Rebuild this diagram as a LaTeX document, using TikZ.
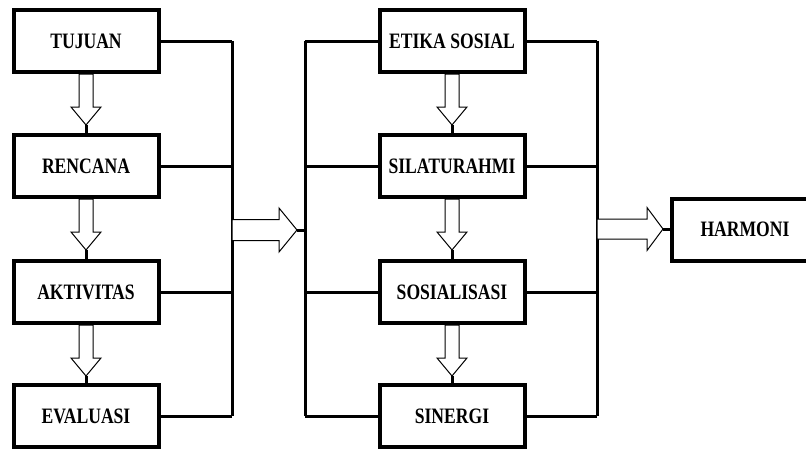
\documentclass[tikz,border=0pt]{standalone}
\usepackage{fontspec}
\setmainfont{Liberation Serif}
\usepackage{graphicx}
\usetikzlibrary{calc}

\newcommand{\cond}[1]{\scalebox{0.8}[1]{#1}}

\tikzset{every picture/.style={line width=0.75pt}}
\tikzset{
  box/.style={draw, line width=3pt, fill=white, minimum width=108.75pt, minimum height=46.5pt, inner sep=0pt, font=\fontsize{16.5}{18}\selectfont\bfseries},
  link/.style={line width=2.25pt},
  hollow/.style={line width=0.75pt, fill=white, line join=miter}
}

\begin{document}
\begin{tikzpicture}[x=0.75pt,y=0.75pt,yscale=-1,xscale=1]
\useasboundingbox (0,0) rectangle (806,450);

%Boxes left
\node[box] (tujuan) at (86,41) {\cond{TUJUAN}};
\node[box] (rencana) at (86,166) {\cond{RENCANA}};
\node[box] (aktivitas) at (86,292) {\cond{AKTIVITAS}};
\node[box] (evaluasi) at (86,416) {\cond{EVALUASI}};
%Boxes middle
\node[box] (etika) at (452,41) {\cond{ETIKA SOSIAL}};
\node[box] (silaturahmi) at (452,166) {\cond{SILATURAHMI}};
\node[box] (sosialisasi) at (452,292) {\cond{SOSIALISASI}};
\node[box] (sinergi) at (452,416) {\cond{SINERGI}};
%Box right (runs past the edge)
\node[box, minimum width=142.5pt] (harmoni) at (767,229.5) {\hspace*{-33pt}\cond{HARMONI}};

%Bus lines
\coordinate (busL) at (232,230);
\coordinate (busM) at (305,230);
\coordinate (busR) at (597,230);

%Straight Lines
\foreach \n in {tujuan,rencana,aktivitas,evaluasi}
  \draw[link] (\n.east) -- (\n.east -| busL);
\draw[link] (tujuan.east -| busL) -- (evaluasi.east -| busL);
\foreach \n in {etika,silaturahmi,sosialisasi,sinergi}
  \draw[link] (\n.west) -- (\n.west -| busM) (\n.east) -- (\n.east -| busR);
\draw[link] (etika.west -| busM) -- (sinergi.west -| busM);
\draw[link] (etika.east -| busR) -- (sinergi.east -| busR);

%Hollow arrows down
\foreach \a/\b in {tujuan/rencana,rencana/aktivitas,aktivitas/evaluasi,etika/silaturahmi,silaturahmi/sosialisasi,sosialisasi/sinergi}{
  \draw[hollow] ($(\a.south)+(-7,0)$) -- ++(0,33) -- ++(-8,0) -- ++(15,18) -- ++(15,-18) -- ++(-8,0) -- ++(0,-33) -- cycle;
  \draw[link] ($(\a.south)+(0,51)$) -- (\b.north);
}

%Block arrows
\draw[hollow] ($(busL)+(0,-10.5)$) -- ++(47,0) -- ++(0,-11.5) -- ++(18,22) -- ++(-18,22) -- ++(0,-11.5) -- ++(-47,0) -- cycle;
\draw[link] ($(busL)+(65,0)$) -- (busM);
\draw[hollow] ($(busR |- harmoni.west)+(0,-10.5)$) -- ++(50,0) -- ++(0,-11.5) -- ++(16,21.5) -- ++(-16,21.5) -- ++(0,-11.5) -- ++(-50,0) -- cycle;
\draw[link] ($(busR |- harmoni.west)+(66,0)$) -- (harmoni.west);
\end{tikzpicture}
\end{document}
